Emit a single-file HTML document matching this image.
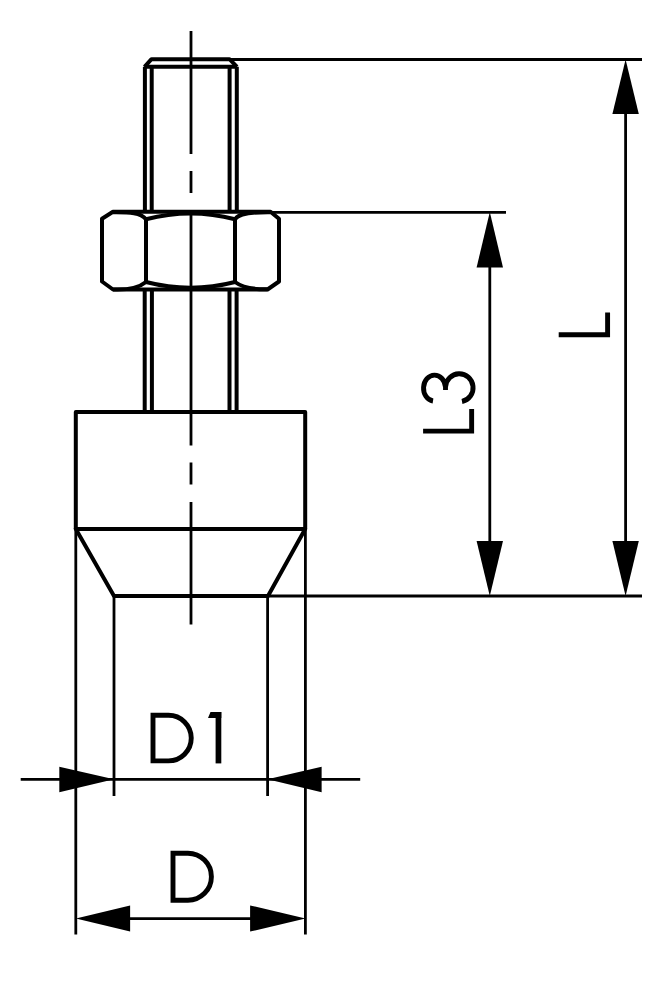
<!DOCTYPE html>
<html>
<head>
<meta charset="utf-8">
<style>
html,body{margin:0;padding:0;background:#fff;width:670px;height:1000px;overflow:hidden;font-family:"Liberation Sans",sans-serif;}
svg{display:block;}
</style>
</head>
<body>
<svg width="670" height="1000" viewBox="0 0 670 1000">
<rect width="670" height="1000" fill="#fff"/>
<g fill="none" stroke="#000" stroke-linejoin="miter" stroke-linecap="butt">
  <!-- thin extension lines -->
  <g stroke-width="2.8">
    <path d="M229,59.5 H642"/>
    <path d="M270,212.3 H506"/>
    <path d="M268,596 H642"/>
    <path d="M75.8,529 V934.5"/>
    <path d="M305.4,529 V934.5"/>
    <path d="M114,596 V796"/>
    <path d="M267.6,596 V796"/>
    <!-- dimension lines -->
    <path d="M625.6,100 V560"/>
    <path d="M489.8,250 V560"/>
    <path d="M20.7,779.3 H360.2"/>
    <path d="M110,918.6 H270"/>
  </g>
  <!-- centerline -->
  <g stroke-width="2.8">
    <path d="M191,31 V154 M191,171 V193 M191,211 V445.6 M191,462.4 V484.5 M191,502 V624.4"/>
  </g>
  <!-- thick outlines -->
  <g stroke-width="4" stroke-linejoin="round">
    <!-- thread top -->
    <path d="M144.5,66.8 L151.5,59.2 H229.5 L237,66.8"/>
    <path d="M144.5,66.8 H237"/>
    <path d="M144.9,66.8 V212 M151.7,66.8 V212 M229.6,66.8 V212 M236.8,66.8 V212"/>
    <!-- thread between nut and body -->
    <path d="M144.7,289.5 V412 M151.9,289.5 V412 M229.5,289.5 V412 M236.6,289.5 V412"/>
    <!-- nut -->
    <path d="M113,211.7 H270.5 L279,218.8 V281.5 L267.5,289.5 H113 L102,281.5 V218.8 Z"/>
    <path d="M146,219 V282 M235,219 V282"/>
    <path d="M113,212.2 C130,212 141,213 146,219.3 Q190.5,207.5 235,219.3 C239,213 252,212 270.5,212.2"/>
    <path d="M113,289.5 C125,290 138,288.5 146,282 Q190.5,293.5 235,282 C243,288 255,289.5 267.5,289.3"/>
    <!-- body -->
    <path d="M75.8,529 V412 H305.2 V529"/>
    <path d="M75.8,529 H305.2 L268,596 H114 Z"/>
  </g>
</g>
<!-- arrows -->
<g fill="#000">
  <path d="M625.6,59.5 L638.8,114 L612.4,114 Z"/>
  <path d="M625.6,596 L638.8,541 L612.4,541 Z"/>
  <path d="M489.8,212 L503,267.5 L476.6,267.5 Z"/>
  <path d="M489.8,596 L503,541 L476.6,541 Z"/>
  <path d="M114,779.3 L59.3,766.8 L59.3,792.2 Z"/>
  <path d="M267.5,779.3 L321.6,766.8 L321.6,792.2 Z"/>
  <path d="M75.9,918.6 L130.1,905.4 L130.1,931.6 Z"/>
  <path d="M305.5,918.6 L250.1,905.4 L250.1,931.6 Z"/>
</g>
<!-- labels -->
<g fill="none" stroke="#000" stroke-width="4.9" stroke-linejoin="miter" stroke-linecap="butt">
  <path d="M558.7,334.75 H607.6 V312.5"/>
  <path d="M423.1,431.15 H471.65 V409"/>
  <path d="M433,401 A11,13 0 1 1 445.5,387 A13.8,14 0 1 1 462,401.5"/><path d="M445.5,385 V390"/>
  <path d="M153,715.2 H168.4 A22.85,22.85 0 0 1 168.4,760.9 H153 Z"/>
  <path d="M173,853.2 H187.9 A23.5,23.5 0 0 1 187.9,900.2 H173 Z"/>
</g>
<g fill="#000">
  <rect x="215.6" y="712" width="5.7" height="51.4"/>
  <path d="M210.5,712 H221.3 V718 H208 Z"/>
</g>
</svg>
</body>
</html>
